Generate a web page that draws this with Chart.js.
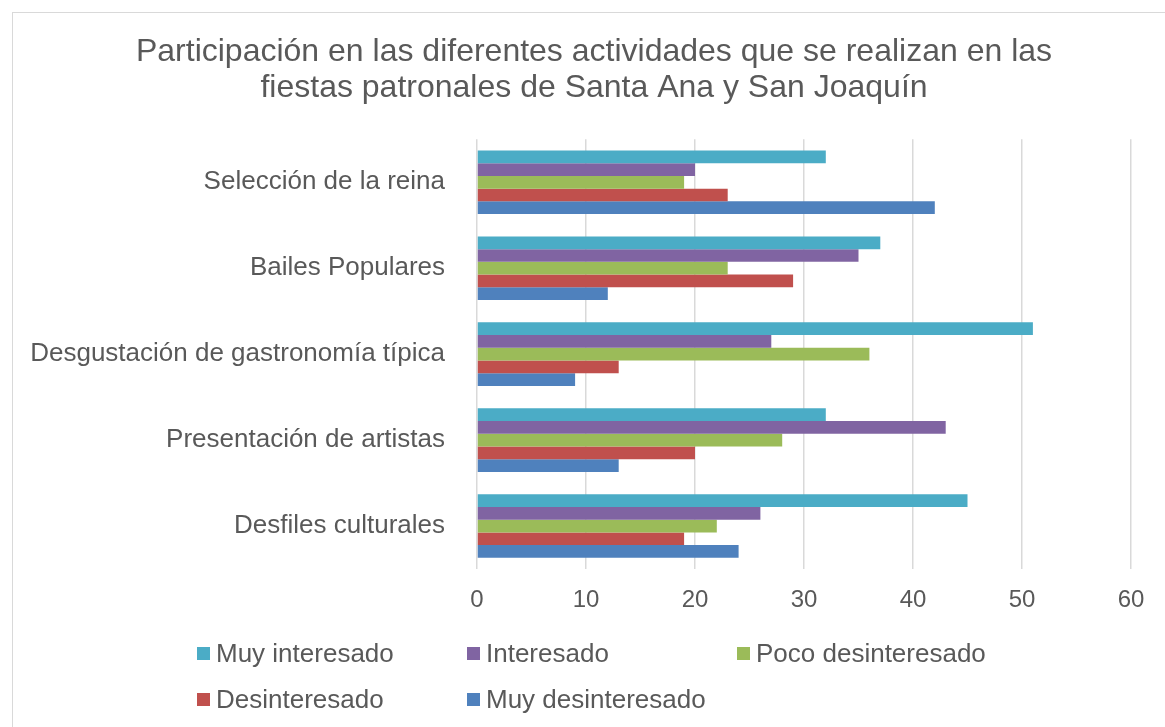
<!DOCTYPE html>
<html>
<head>
<meta charset="utf-8">
<script src="https://cdn.jsdelivr.net/npm/chart.js@4"></script>
<style>
  html, body { margin: 0; padding: 0; background: #fff; }
  #wrap { position: relative; width: 1165px; height: 727px; }
  #frame { position: absolute; left: 12px; top: 12px; width: 1160px; height: 720px; border: 1px solid #d9d9d9; box-sizing: border-box; }
  #chart { position: absolute; left: 0; top: 0; }
  #legend { position: absolute; left: 197px; top: 638px; font-family: "Liberation Sans", Arial, sans-serif; font-size: 26px; line-height: 30px; color: #595959; }
  .item { position: absolute; white-space: nowrap; display: flex; align-items: center; }
  .box { width: 13px; height: 13px; margin-right: 6px; }
</style>
</head>
<body>
<div id="wrap">
  <div id="frame"></div>
  <canvas id="chart" width="1165" height="727"></canvas>
  <div id="legend"></div>
</div>
<script>
const categories = [
  "Selección de la reina",
  "Bailes Populares",
  "Desgustación de gastronomía típica",
  "Presentación de artistas",
  "Desfiles culturales"
];
const seriesNames = ["Muy interesado", "Interesado", "Poco desinteresado", "Desinteresado", "Muy desinteresado"];
const muyInteresado = [32, 37, 51, 32, 45];
const interesado = [20, 35, 27, 43, 26];
const pocoDesinteresado = [19, 23, 36, 28, 22];
const desinteresado = [23, 29, 13, 20, 19];
const muyDesinteresado = [42, 12, 9, 13, 24];
const xTicks = [0, 10, 20, 30, 40, 50, 60];

const colors = ["#4BACC6", "#8064A2", "#9BBB59", "#C0504D", "#4F81BD"];
const values = [muyInteresado, interesado, pocoDesinteresado, desinteresado, muyDesinteresado];
const textColor = "#595959";
const fontFamily = "'Liberation Sans', Arial, sans-serif";

const ctx = document.getElementById("chart").getContext("2d");
const chart = new Chart(ctx, {
  type: "bar",
  data: {
    labels: categories,
    datasets: seriesNames.map((name, i) => ({
      label: name,
      data: values[i],
      backgroundColor: colors[i],
      borderWidth: 0,
      barPercentage: 1,
      categoryPercentage: 0.74
    }))
  },
  options: {
    indexAxis: "y",
    responsive: false,
    animation: false,
    layout: { padding: { left: 24, right: 1, top: 0, bottom: 88 } },
    plugins: {
      legend: { display: false },
      tooltip: { enabled: false },
      title: {
        display: true,
        text: [
          "Participación en las diferentes actividades que se realizan en las",
          "fiestas patronales de Santa Ana y San Joaquín"
        ],
        color: textColor,
        font: { family: fontFamily, size: 32, weight: "normal", lineHeight: 1.13 },
        padding: { top: 34, bottom: 33 }
      }
    },
    scales: {
      x: {
        min: 0,
        max: 60,
        afterBuildTicks: (scale) => { scale.ticks = xTicks.map((v) => ({ value: v })); },
        afterFit: (scale) => { scale.height = 70; },
        grid: { color: "#d9d9d9", lineWidth: 1.5, drawTicks: false },
        border: { display: false },
        ticks: { color: textColor, font: { family: fontFamily, size: 24 }, padding: 17 }
      },
      y: {
        afterFit: (scale) => { scale.width = 477 - 24; },
        grid: { display: false, drawTicks: false },
        border: { display: false },
        ticks: { color: textColor, font: { family: fontFamily, size: 26 }, padding: 32 }
      },
      // empty spacer on the right so the plot ends where the original does
      yRight: {
        type: "category",
        position: "right",
        afterFit: (scale) => { scale.width = 33; },
        grid: { display: false, drawTicks: false },
        border: { display: false },
        ticks: { display: false }
      }
    }
  }
});

// legend laid out like the original: three columns, two rows
const legendPos = [[0, 0], [270, 0], [540, 0], [0, 46], [270, 46]];
const legend = document.getElementById("legend");
seriesNames.forEach((name, i) => {
  const item = document.createElement("div");
  item.className = "item";
  item.style.left = legendPos[i][0] + "px";
  item.style.top = legendPos[i][1] + "px";
  item.innerHTML = '<span class="box" style="background:' + colors[i] + '"></span><span>' + name + "</span>";
  legend.appendChild(item);
});
</script>
</body>
</html>
